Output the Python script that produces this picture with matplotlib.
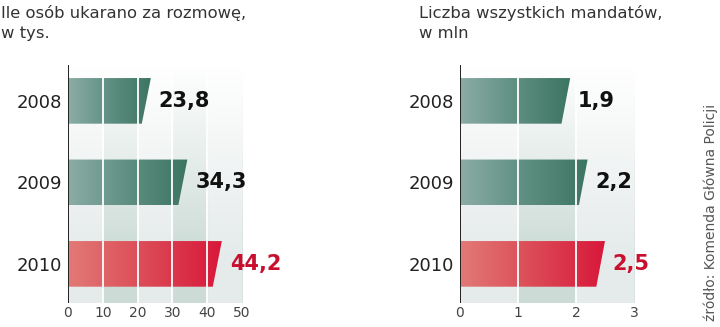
import numpy as np
import matplotlib.pyplot as plt
from matplotlib import font_manager as fm
from matplotlib.patches import Polygon
from matplotlib.colors import LinearSegmentedColormap

years = ["2008", "2009", "2010"]
fined_calls = [23.8, 34.3, 44.2]          # tys.
all_tickets = [1.9, 2.2, 2.5]             # mln
labels_calls = ["23,8", "34,3", "44,2"]
labels_tickets = ["1,9", "2,2", "2,5"]

# narrow bold font for the value labels, if there is one
try:
    fm.findfont(fm.FontProperties(family="Liberation Sans Narrow", weight="bold"),
                fallback_to_default=False)
    narrow = "Liberation Sans Narrow"
    val_size = 17
except Exception:
    narrow = "DejaVu Sans"
    val_size = 15

W, H = 720, 327
fig = plt.figure(figsize=(W / 100, H / 100), dpi=100)
fig.patch.set_facecolor("white")

green = LinearSegmentedColormap.from_list("g", ["#8badA5", "#5f8f82", "#3c7462"])
red = LinearSegmentedColormap.from_list("r", ["#e27a76", "#dc4a56", "#d8173a"])


def px_axes(x0, x1, y0, y1):
    return fig.add_axes([x0 / W, 1 - y1 / H, (x1 - x0) / W, (y1 - y0) / H])


def panel(ax, values, labels, xmax, step, slant, gap):
    ylo, yhi = 2.48, -0.44
    ax.set_xlim(0, xmax)
    ax.set_ylim(ylo, yhi)
    # striped background fading to white at top
    xs = np.linspace(0, xmax, 400)
    t = np.linspace(0, 1, 200)[:, None]
    shaded = ((xs // step) % 2 == 1)[None, :]
    plain_c = np.array([0.90, 0.92, 0.92])
    shade_c = np.array([0.80, 0.86, 0.84])
    base = np.where(shaded[..., None], shade_c, plain_c)
    fade = np.clip(t * 1.25, 0, 1)[..., None]
    img = 1 - (1 - base) * fade
    ax.imshow(img, extent=[0, xmax, ylo, yhi], aspect="auto", zorder=0,
              interpolation="bilinear")

    bh = 0.28
    for i, (v, lab) in enumerate(zip(values, labels)):
        cmap = red if i == 2 else green
        poly = Polygon([(0, i - bh), (v, i - bh), (v - slant, i + bh), (0, i + bh)],
                       closed=True, facecolor="none", edgecolor="none")
        ax.add_patch(poly)
        grad = np.linspace(0, 1, 256)[None, :]
        im = ax.imshow(grad, cmap=cmap, extent=[0, v, i + bh, i - bh],
                       aspect="auto", zorder=2)
        im.set_clip_path(poly)
        ax.text(v + gap, i, lab, ha="left", va="center", fontsize=val_size,
                fontweight="bold", family=[narrow, "DejaVu Sans"],
                color="#c8102e" if i == 2 else "#111111", zorder=4)
    for g in np.arange(step, xmax, step):
        ax.axvline(g, color="white", lw=1.3, zorder=3)
    ax.axvline(0, color="#222222", lw=1.4, zorder=5)

    ax.set_yticks(range(3))
    ax.set_yticklabels(years, fontsize=13, color="#222222")
    ticks = np.arange(0, xmax + step / 2, step)
    ax.set_xticks(ticks)
    ax.set_xticklabels([str(int(x)) for x in ticks], fontsize=10, color="#444444")
    ax.tick_params(length=0, pad=4)
    ax.tick_params(axis="x", pad=2)
    for s in ax.spines.values():
        s.set_visible(False)
    ax.set_ylim(ylo, yhi)


ax1 = px_axes(68, 242, 65, 303)
panel(ax1, fined_calls, labels_calls, 50, 10, 2.6, 2.3)
ax2 = px_axes(460, 634, 65, 303)
panel(ax2, all_tickets, labels_tickets, 3, 1, 0.15, 0.13)

fig.text(1 / W, 1 - 5 / H, "Ile osób ukarano za rozmowę,\nw tys.", ha="left",
         va="top", fontsize=11.8, color="#333333", linespacing=1.45)
fig.text(419 / W, 1 - 5 / H, "Liczba wszystkich mandatów,\nw mln", ha="left",
         va="top", fontsize=11.8, color="#333333", linespacing=1.45)
fig.text(711 / W, 1 - 212 / H, "źródło: Komenda Główna Policji", rotation=90,
         ha="center", va="center", fontsize=10, color="#555555")

fig.savefig("out.png", dpi=100)
